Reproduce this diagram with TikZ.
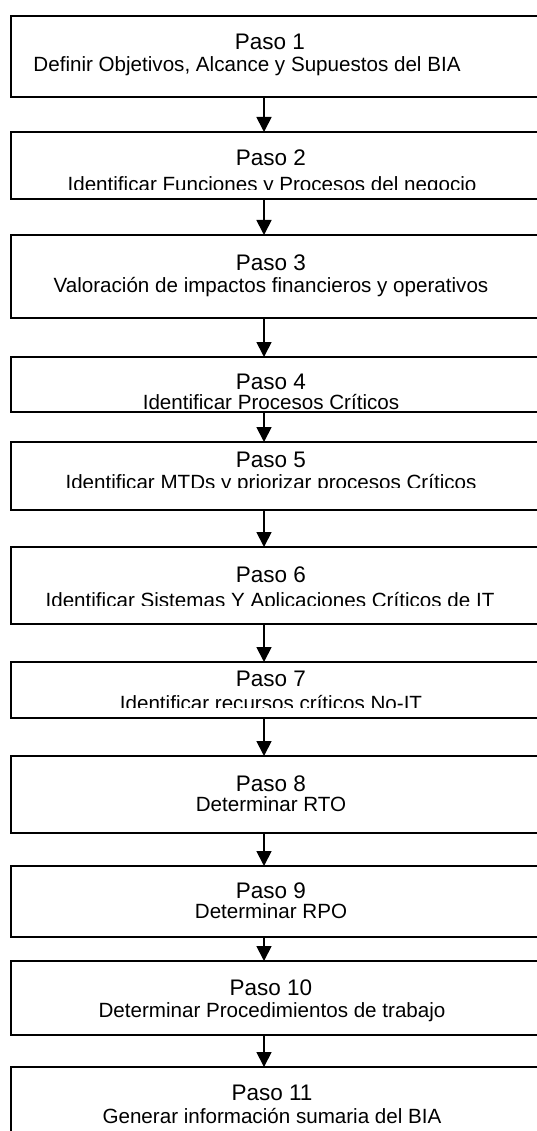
\documentclass[tikz,border=0pt]{standalone}
\usepackage{fontspec}
\setmainfont{Liberation Sans}
\usetikzlibrary{arrows.meta}
\begin{document}
\begin{tikzpicture}[x=1pt,y=-1pt,
  stepbox/.style={draw=black, line width=1.6pt, inner sep=0pt, outer sep=0pt, minimum width=549pt, rectangle},
  pasotext/.style={anchor=base, inner sep=0pt, font=\fontsize{22.5}{27}\selectfont},
  desctext/.style={anchor=base, inner sep=0pt, font=\fontsize{20.6}{25}\selectfont},
  arr/.style={line width=1.8pt, -{Triangle[width=15pt,length=15pt]}}]
\useasboundingbox (0,0) rectangle (537,1131);
\clip (0,0) rectangle (537,1131);
\fill[white] (0,0) rectangle (537,1131);
\coordinate (ax) at (264,0);
% boxes
\node[stepbox, minimum height=81pt] (b1) at (285.5,56.5) {};
\node[stepbox, minimum height=67pt] (b2) at (285.5,165.5) {};
\node[stepbox, minimum height=83pt] (b3) at (285.5,276.5) {};
\node[stepbox, minimum height=55pt] (b4) at (285.5,384.5) {};
\node[stepbox, minimum height=68pt] (b5) at (285.5,476) {};
\node[stepbox, minimum height=77pt] (b6) at (285.5,585.5) {};
\node[stepbox, minimum height=56pt] (b7) at (285.5,690) {};
\node[stepbox, minimum height=77pt] (b8) at (285.5,794.5) {};
\node[stepbox, minimum height=71pt] (b9) at (285.5,901.5) {};
\node[stepbox, minimum height=74pt] (b10) at (285.5,998) {};
\node[stepbox, minimum height=93pt] (b11) at (285.5,1113.5) {};
% texts
\node[pasotext] (p1) at (270,50) {Paso 1};
\node[desctext] (d1) at (247,72) {Definir Objetivos, Alcance y Supuestos del BIA};
\node[pasotext] (p2) at (271,166) {Paso 2};
\begin{scope}
\clip (0,133) rectangle (537,189.5);
\node[desctext] (d2) at (272,191.5) {Identificar Funciones y Procesos del negocio};
\end{scope}
\node[pasotext] (p3) at (271,271) {Paso 3};
\node[desctext] (d3) at (271,292.5) {Valoración de impactos financieros y operativos};
\node[pasotext] (p4) at (271,389) {Paso 4};
\node[desctext] (d4) at (271,409.5) {Identificar Procesos Críticos};
\node[pasotext] (p5) at (271,467) {Paso 5};
\begin{scope}
\clip (0,443) rectangle (537,487);
\node[desctext] (d5) at (271,489) {Identificar MTDs y priorizar procesos Críticos};
\end{scope}
\node[pasotext] (p6) at (271,582) {Paso 6};
\begin{scope}
\clip (0,548) rectangle (537,605);
\node[desctext] (d6) at (270,607) {Identificar Sistemas Y Aplicaciones Críticos de IT};
\end{scope}
\node[pasotext] (p7) at (271,686) {Paso 7};
\begin{scope}
\clip (0,663) rectangle (537,707);
\node[desctext] (d7) at (271,710) {Identificar recursos críticos No-IT};
\end{scope}
\node[pasotext] (p8) at (271,791) {Paso 8};
\node[desctext] (d8) at (271,811) {Determinar RTO};
\node[pasotext] (p9) at (271,898) {Paso 9};
\node[desctext] (d9) at (271,918) {Determinar RPO};
\node[pasotext] (p10) at (271,995) {Paso 10};
\node[desctext] (d10) at (272,1017) {Determinar Procedimientos de trabajo};
\node[pasotext] (p11) at (272,1100.7) {Paso 11};
\node[desctext] (d11) at (272,1123) {Generar información sumaria del BIA};
% arrows
\foreach \a/\b in {b1/b2,b2/b3,b3/b4,b4/b5,b5/b6,b6/b7,b7/b8,b8/b9,b9/b10,b10/b11}
  \draw[arr] (\a.south -| ax) -- (\b.north -| ax);
\end{tikzpicture}
\end{document}
